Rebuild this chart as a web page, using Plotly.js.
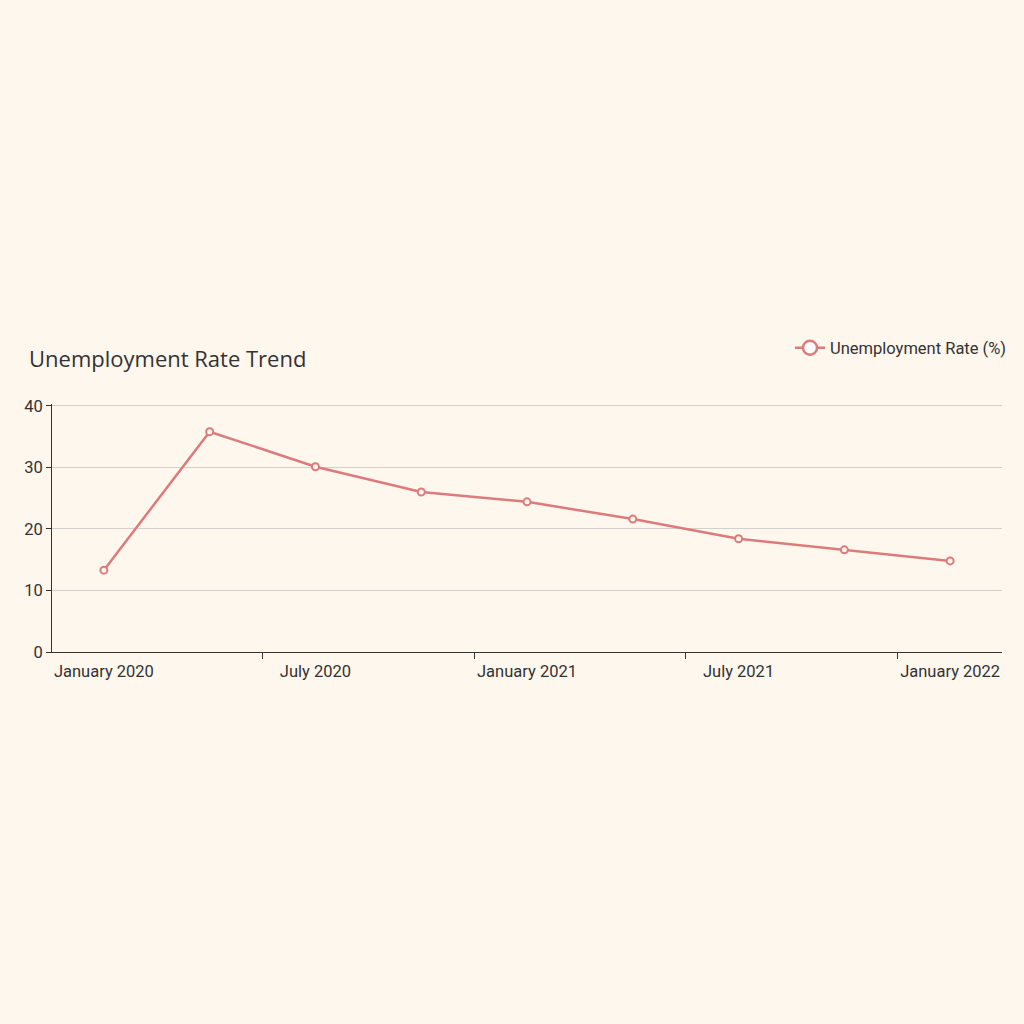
<!DOCTYPE html>
<html>
<head>
<meta charset="utf-8">
<script src="https://cdn.plot.ly/plotly-3.0.1.min.js"></script>
<style>
  html, body { margin: 0; padding: 0; background: #fef7ee; }
  #chart { width: 1024px; height: 1024px; }
</style>
</head>
<body>
<div id="chart"></div>
<script>
var months = ['January 2020', 'April 2020', 'July 2020', 'October 2020', 'January 2021',
              'April 2021', 'July 2021', 'October 2021', 'January 2022'];
var unemployment = [13.3, 35.8, 30.1, 26.0, 24.4, 21.6, 18.4, 16.6, 14.8];
var seriesName = 'Unemployment Rate (%)';
var yTicks = [0, 10, 20, 30, 40];

var lineColor = '#dd7b7c';
var bg = '#fef7ee';

var trace = {
    x: months,
    y: unemployment,
    name: seriesName,
    type: 'scatter',
    mode: 'lines+markers',
    showlegend: false,
    line: { color: lineColor, width: 2.5 },
    marker: { symbol: 'circle', size: 7, color: bg, line: { color: lineColor, width: 2 } }
};

// legend entry only, with the bigger symbol the reference shows
var legendEntry = {
    x: [null],
    y: [null],
    name: seriesName,
    type: 'scatter',
    mode: 'lines+markers',
    line: { color: lineColor, width: 2.5 },
    marker: { symbol: 'circle', size: 14, color: '#ffffff', line: { color: lineColor, width: 2.5 } }
};

var layout = {
    width: 1024,
    height: 1024,
    paper_bgcolor: bg,
    plot_bgcolor: bg,
    font: { family: 'Roboto, sans-serif', size: 16.5, color: '#333' },
    showlegend: true,
    title: {
        text: 'Unemployment Rate Trend',
        font: { family: 'Open Sans, sans-serif', size: 22, color: '#333' },
        xref: 'container', x: 29 / 1024, xanchor: 'left',
        yref: 'container', y: 1 - 359 / 1024, yanchor: 'middle'
    },
    legend: {
        orientation: 'h',
        xref: 'container', x: 1012 / 1024, xanchor: 'right',
        yref: 'container', y: 1 - 348 / 1024, yanchor: 'middle',
        font: { size: 16.5, color: '#333' },
        bgcolor: 'rgba(0,0,0,0)'
    },
    margin: { l: 52, r: 22, t: 404, b: 372 },
    xaxis: {
        type: 'category',
        tickson: 'boundaries',
        dtick: 2,
        ticks: 'outside',
        ticklen: 6,
        tickcolor: '#333',
        ticklabelstandoff: 4,
        showline: true,
        linecolor: '#333',
        linewidth: 1,
        showgrid: false,
        zeroline: false,
        fixedrange: true
    },
    yaxis: {
        range: [0, 40.3],
        tickvals: yTicks,
        ticks: 'outside',
        ticklen: 5,
        tickcolor: '#333',
        showline: true,
        linecolor: '#333',
        linewidth: 1,
        showgrid: true,
        gridcolor: '#d2d0cc',
        gridwidth: 1.2,
        zeroline: false
    }
};

Plotly.newPlot('chart', [trace, legendEntry], layout, { displayModeBar: false });
</script>
</body>
</html>
